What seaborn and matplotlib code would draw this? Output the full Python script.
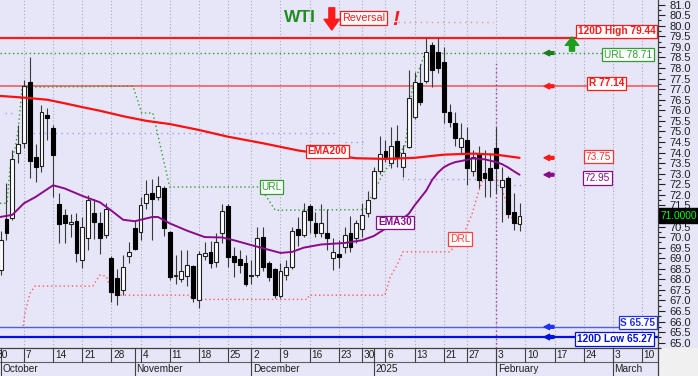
import matplotlib
matplotlib.use("Agg")
import matplotlib.pyplot as plt
import matplotlib.ticker as mticker
from matplotlib.patches import Rectangle
import numpy as np
import pandas as pd
import seaborn as sns

# ---- data -------------------------------------------------------------------
# trading calendar; holidays are skipped on the x axis (future days are not)
holidays = ["2024-11-28", "2024-12-25", "2025-01-01", "2025-01-20"]
month_names = {10: "October", 11: "November", 12: "December", 1: "2025", 2: "February", 3: "March"}

# daily candles 2024-10-01 .. 2025-02-07 (trading-day positions 1..90)
opens = [68.45, 70.85, 70.9, 73.97, 74.45, 77.35, 73.8, 73.35, 75.8, 75.15,
         71.55, 71.05, 70.6, 70.75, 68.9, 69.95, 71.15, 70.67, 70.08, 69.0,
         68.05, 67.5, 69.1, 70.45, 70.25, 71.6, 72.1, 71.9, 72.3, 70.25,
         68.15, 68.0, 68.15, 68.65, 67.0, 69.1, 69.3, 68.8, 70.2, 71.45,
         69.1, 68.95, 68.75, 68.15, 68.2, 70.0, 68.75, 68.5, 67.2, 68.2,
         68.6, 70.4, 70.1, 71.45, 70.65, 70.2, 70.2, 69.0, 69.2, 69.55,
         70.2, 69.95, 70.4, 71.15, 71.85, 73.15, 74.05, 73.5, 74.55, 73.3,
         74.25, 75.7, 77.3, 77.4, 79.1, 78.75, 78.3, 75.9, 75.4, 74.25,
         74.6, 73.15, 73.95, 73.05, 73.25, 74.2, 72.35, 72.8, 71.2, 70.6]
highs = [70.3, 72.55, 74.1, 75.3, 77.43, 78.5, 74.4, 76.25, 76.1, 75.3,
         72.1, 71.35, 71.1, 71.15, 70.95, 72.0, 71.8, 71.2, 71.6, 69.1,
         68.5, 69.15, 69.75, 70.8, 71.9, 72.7, 72.75, 72.9, 72.4, 70.3,
         69.15, 69.4, 69.4, 68.7, 69.35, 69.75, 69.8, 70.2, 71.55, 71.55,
         69.55, 69.4, 69.15, 68.9, 70.5, 70.5, 68.85, 68.55, 68.75, 68.9,
         70.5, 70.95, 71.6, 71.55, 71.2, 71.55, 71.35, 69.95, 69.85, 70.5,
         71.0, 70.8, 71.6, 72.2, 73.3, 74.8, 74.6, 75.2, 75.3, 74.35,
         77.9, 77.8, 78.2, 79.44, 79.25, 79.4, 79.0, 76.3, 75.9, 75.4,
         75.2, 74.1, 74.3, 74.1, 74.0, 75.2, 73.3, 72.9, 72.1, 71.6]
lows = [68.2, 69.85, 70.8, 73.5, 74.2, 72.8, 72.6, 73.1, 74.6, 71.9,
        69.7, 69.7, 70.0, 68.8, 68.55, 69.4, 69.9, 69.2, 69.95, 66.95,
        66.8, 67.25, 68.75, 69.4, 69.85, 71.35, 69.85, 71.75, 70.05, 67.95,
        67.8, 67.85, 67.7, 66.95, 66.65, 68.9, 68.55, 68.6, 69.7, 68.6,
        68.1, 68.3, 67.7, 67.8, 68.1, 68.4, 67.9, 67.1, 67.1, 67.95,
        68.5, 69.6, 70.0, 70.2, 70.0, 70.0, 69.4, 68.45, 68.55, 69.25,
        69.3, 69.7, 70.0, 70.95, 71.8, 73.0, 73.55, 73.25, 73.3, 72.85,
        74.2, 75.6, 76.25, 77.3, 77.1, 77.75, 75.4, 75.2, 74.3, 73.95,
        72.45, 72.9, 72.3, 71.9, 71.9, 72.1, 70.7, 70.9, 70.35, 70.3]
closes = [69.85, 70.2, 73.7, 74.4, 77.15, 73.6, 73.3, 75.9, 75.65, 73.9,
          70.6, 70.65, 70.7, 69.25, 70.47, 71.75, 70.7, 69.95, 71.35, 67.4,
          67.25, 68.6, 69.3, 69.45, 71.5, 72.05, 71.8, 72.4, 70.45, 68.1,
          68.2, 68.4, 68.7, 67.1, 69.2, 69.25, 68.75, 69.75, 71.25, 69.05,
          68.8, 68.7, 67.8, 68.2, 69.95, 68.6, 68.1, 67.25, 68.4, 68.6,
          70.3, 70.1, 71.25, 70.8, 70.2, 70.65, 69.95, 69.3, 69.05, 70.1,
          69.55, 70.65, 71.05, 71.75, 73.15, 73.95, 73.8, 74.3, 73.8, 74.0,
          76.6, 77.35, 76.4, 78.75, 77.9, 78.0, 75.9, 75.45, 74.7, 74.7,
          73.25, 73.8, 72.7, 72.8, 72.7, 73.25, 72.7, 71.1, 70.65, 71.0]

# moving averages (trading-day position, value)
ema200_pos = [0.9, 5, 9, 12, 15, 18, 22, 26, 30, 35, 40, 46, 52, 57, 62, 67, 72, 77, 82, 86, 90]
ema200 = [76.68, 76.6, 76.5, 76.33, 76.15, 75.98, 75.72, 75.5, 75.35, 75.07, 74.75,
          74.44, 74.1, 73.9, 73.73, 73.7, 73.75, 73.9, 73.95, 73.9, 73.75]
ema30_pos = [0.9, 3, 5, 7, 10, 12, 15, 18, 20, 22, 24, 27, 28, 30, 33, 36, 39, 41, 44,
             49, 51, 53, 56, 60, 63, 65, 67, 69, 71, 72, 73, 74, 75, 76, 77, 78, 79,
             80, 82, 84, 86, 87, 88, 89, 90]
ema30 = [70.95, 71.05, 71.6, 71.9, 72.45, 72.3, 71.95, 71.65, 71.25, 70.82, 70.75,
         70.95, 70.95, 70.65, 70.3, 70.0, 69.98, 69.85, 69.62, 69.25, 69.3, 69.5, 69.65,
         69.72, 69.85, 70.05, 70.4, 70.65, 71.1, 71.5, 71.85, 72.2, 72.7, 73.05, 73.3,
         73.45, 73.55, 73.6, 73.72, 73.68, 73.55, 73.45, 73.3, 73.12, 72.95]

# trailing step lines
url_pos = [0.89, 2.1, 2.6, 3.5, 4.0, 4.7, 23.7, 25.2, 27.1, 30.0, 45.5, 48.1,
           63.5, 64.7, 66.9, 68.6, 70.4, 71.6, 73.8]
url_vals = [71.6, 71.6, 73.3, 74.25, 75.07, 77.1, 77.14, 75.87, 75.87, 72.37, 72.37,
            71.27, 71.3, 71.98, 73.16, 73.64, 74.35, 77.05, 78.71]
drl_pos = [4.84, 5.18, 6.04, 6.9, 16.8, 18.0, 19.1, 20.1, 21.0, 33.5, 33.8, 53.6,
           53.9, 66.9, 67.8, 69.0, 70.0, 78.1, 80.7, 81.9, 82.9, 83.7, 86.7, 87.2,
           88.7, 89.7]
drl_vals = [65.79, 66.4, 67.35, 67.68, 67.68, 68.2, 68.15, 67.4, 67.25, 67.25, 67.05,
            67.05, 67.25, 67.25, 68.1, 68.68, 69.3, 69.3, 70.33, 71.13, 72.08, 72.7,
            72.7, 72.08, 70.9, 70.62]

# short dotted pivot segments
pivot_start = [1.75, 4.7, 60.1, 69.8, 86.1]
pivot_end = [3.1, 58.7, 63.2, 82.9, 90.4]
pivot_level = [75.87, 74.94, 74.52, 72.75, 72.45]

high120 = 79.44
url_level = 78.71
resistance = 77.14
support = 65.75
low120 = 65.27
last_price = 71.00
signal_day = 86

# ---- figure -------------------------------------------------------------------
lav = "#E6E6F8"
sns.set_theme(style="white", rc={"axes.facecolor": lav, "figure.facecolor": lav})
plt.rcParams["font.family"] = ["Liberation Sans", "DejaVu Sans"]

fig = plt.figure(figsize=(6.98, 3.76), dpi=100)
ax = fig.add_axes([0, 28 / 376, 658 / 698, 348 / 376])
fig.add_artist(Rectangle((658 / 698, 0), 40 / 698, 28 / 376, transform=fig.transFigure,
                         color="#F0F0F0", zorder=0))

days = pd.bdate_range("2024-09-30", "2025-03-14")
days = days[~days.isin(pd.to_datetime(holidays))]
pos = pd.Series(np.arange(len(days)), index=days)
week_starts = pos.groupby(days.to_period("W")).min()
month_starts = pos.groupby(days.to_period("M")).min()

x_lo, x_hi = 0.89, 113.75

# weekly grid
for p in week_starts:
    ax.axvline(p, color="#A8A8BC", lw=0.8, ls=(0, (1, 2)), zorder=0)

# candles
x = np.arange(1, len(opens) + 1)
o, h, l, c = map(np.array, (opens, highs, lows, closes))
up = c >= o
ax.vlines(x, l, h, color="#3A3A3A", lw=0.8, zorder=3)
ax.bar(x[up], np.maximum((c - o)[up], 0.04), bottom=o[up], width=0.66, color="white",
       edgecolor="#202020", lw=0.8, zorder=4)
ax.bar(x[~up], np.maximum((o - c)[~up], 0.04), bottom=c[~up], width=0.66, color="black",
       edgecolor="black", lw=0.8, zorder=4)

# levels
ax.axhline(high120, color="#FF1A1A", lw=1.6, zorder=2)
ax.hlines(url_level, x_lo, 112.5, color="#2E9E2E", lw=1, ls=(0, (1, 2)), zorder=2)
ax.axhline(resistance, color="#F06A6A", lw=1.3, zorder=2)
ax.axhline(support, color="#4A5CFF", lw=1, zorder=2)
ax.axhline(low120, color="#0010E0", lw=1.6, zorder=2)
ax.hlines(pivot_level, pivot_start, pivot_end, color="#9A9AFF", lw=1, ls=(0, (1, 3)), zorder=2)
ax.hlines(80.2, 69.2, 85.5, color="#F09090", lw=1, ls=(0, (1, 3)), zorder=2)
ax.vlines(signal_day, 64.75, 78.29, color="#A040A0", lw=1, ls=(0, (1, 2)), zorder=2)

sns.lineplot(x=url_pos, y=url_vals, ax=ax, color="#2E9E2E", lw=1, ls=(0, (1, 2)),
             estimator=None, sort=False, legend=False, zorder=2)
sns.lineplot(x=drl_pos, y=drl_vals, ax=ax, color="#FF5A5A", lw=1, ls=(0, (1, 2)),
             estimator=None, sort=False, legend=False, zorder=2)
sns.lineplot(x=ema200_pos, y=ema200, ax=ax, color="#FF1010", lw=1.6,
             estimator=None, sort=False, legend=False, zorder=5)
sns.lineplot(x=ema30_pos, y=ema30, ax=ax, color="#8A0A8A", lw=1.4,
             estimator=None, sort=False, legend=False, zorder=5)


def tag(xp, yp, s, color, ha="center", weight="bold", size=7.3):
    ax.text(xp, yp, s, color=color, ha=ha, va="center", fontsize=size, fontweight=weight,
            zorder=8, bbox=dict(boxstyle="square,pad=0.18", fc="white", ec=color, lw=0.9))


def arrow(x0, y0, x1, y1, color, scale=8, hw=0.5, hl=0.5, tw=0.25):
    ax.annotate("", xy=(x1, y1), xytext=(x0, y0), zorder=8,
                arrowprops=dict(arrowstyle=f"simple,head_length={hl},head_width={hw},tail_width={tw}",
                                color=color, mutation_scale=scale, shrinkA=0, shrinkB=0))


# right-hand labels
tag(113.3, 79.73, "120D High 79.44", "#FF1A1A", ha="right")
tag(112.7, 78.64, "URL 78.71", "#2E9E2E", ha="right", weight="normal")
tag(104.9, 77.27, "R 77.14", "#FF1A1A")
tag(103.55, 73.81, "73.75", "#FF3030", weight="normal")
tag(103.3, 72.79, "72.95", "#8A0A8A", weight="normal")
tag(113.3, 65.95, "S 65.75", "#2030FF", ha="right")
tag(112.7, 65.17, "120D Low 65.27", "#0010E0", ha="right")

# in-chart labels
tag(57.0, 74.05, "EMA200", "#FF1A1A")
tag(47.45, 72.37, "URL", "#2E9E2E", weight="normal")
tag(68.65, 70.69, "EMA30", "#8A0A8A")
tag(79.8, 69.91, "DRL", "#FF4040", weight="normal")

# arrows pointing at the levels
for lvl, col in [(url_level, "#1E7E1E"), (resistance, "#FF1A1A"), (73.75, "#FF1A1A"),
                 (72.95, "#8A0A8A"), (support, "#2030FF"), (low120, "#0010E0")]:
    arrow(95.9, lvl, 94.2, lvl, col)
arrow(99.0, 78.8, 99.0, 79.47, "#1E9E1E", scale=12, hw=0.8, hl=0.5, tw=0.3)

# title area
ax.text(52.35, 80.37, "WTI", color="#1E8C1E", fontsize=12.5, fontweight="bold",
        ha="center", va="center", zorder=8)
arrow(57.8, 80.85, 57.8, 79.8, "#FF1A1A", scale=14, hw=0.8, hl=0.55, tw=0.3)
tag(63.24, 80.35, "Reversal", "#FF1A1A", weight="normal", size=7.8)
ax.text(68.8, 80.32, "!", color="#FF1A1A", fontsize=15, fontweight="bold",
        fontstyle="italic", ha="center", va="center", zorder=8)

# last price box on the axis (covers the 71.0 tick label)
ax.text(1.004, 71.02, "71.0000", transform=ax.get_yaxis_transform(), ha="left",
        va="center", color="#00FF00", fontsize=7.3, zorder=10, clip_on=False,
        bbox=dict(boxstyle="square,pad=0.2", fc="black", ec="black"))

# axes, ticks
ax.set_xlim(x_lo, x_hi)
ax.set_ylim(64.75, 81.22)
ax.set_xticks([])
ax.set_xlabel("")
ax.set_ylabel("")
ax.yaxis.tick_right()
ax.yaxis.set_major_locator(mticker.MultipleLocator(0.5))
ax.yaxis.set_minor_locator(mticker.MultipleLocator(0.25))
ax.yaxis.set_major_formatter(mticker.FuncFormatter(
    lambda v, _: "" if abs(v - last_price) < 1e-6 else f"{v:.1f}"))
ax.tick_params(axis="y", which="major", length=5, width=0.8, pad=3, labelsize=8,
               colors="#202020", right=True, left=False)
ax.tick_params(axis="y", which="minor", length=2.5, width=0.8, right=True, left=False,
               colors="#202020")
for side in ["left", "top"]:
    ax.spines[side].set_visible(False)
for side in ["right", "bottom"]:
    ax.spines[side].set_color("#404040")
    ax.spines[side].set_linewidth(0.9)

# date strip under the plot
xt = ax.get_xaxis_transform()
row = 14 / 348
ax.plot([0, 1], [-row, -row], transform=ax.transAxes, color="#606060", lw=0.8, clip_on=False)
ax.plot([1, 1], [0, -2 * row], transform=ax.transAxes, color="#404040", lw=0.9, clip_on=False)
for p in week_starts:
    if p > x_hi:
        continue
    if p >= x_lo:
        ax.plot([p, p], [0, -row], transform=xt, color="#404040", lw=0.8, clip_on=False)
    ax.text(p + 0.3, -row / 2, str(days[p].day), transform=xt, ha="left", va="center",
            fontsize=7.3, color="#202020", clip_on=False)
for p in month_starts:
    if p < x_lo or p > x_hi:
        continue
    ax.plot([p, p], [0, -2 * row], transform=xt, color="#404040", lw=0.8, clip_on=False)
    ax.text(p + 0.3, -1.5 * row, month_names[days[p].month], transform=xt, ha="left",
            va="center", fontsize=7.3, color="#202020", clip_on=False)

fig.savefig("out.png", dpi=100)
